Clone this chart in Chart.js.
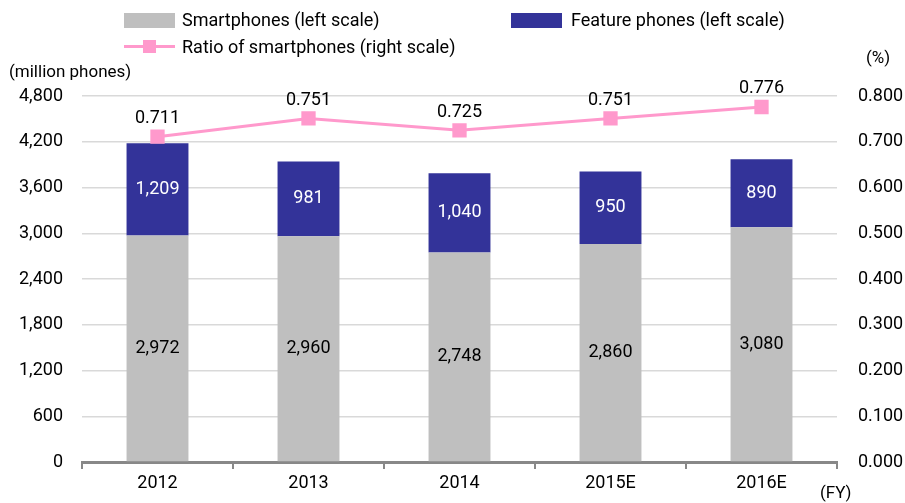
<!DOCTYPE html>
<html>
<head>
<meta charset="utf-8">
<script src="https://cdn.jsdelivr.net/npm/chart.js@4"></script>
<style>
  body { margin: 0; background: #fff; }
  #wrap { position: relative; width: 905px; height: 503px; font-family: Roboto, "Noto Sans CJK JP", sans-serif; }
  #wrap canvas { position: absolute; left: 0; top: 0; }
  .lg { position: absolute; font-size: 18px; color: #000; line-height: 20px; white-space: nowrap; }
  .box { position: absolute; width: 51px; height: 15px; }
  .note { position: absolute; font-size: 17px; color: #000; white-space: nowrap; }
</style>
</head>
<body>
<div id="wrap">
  <canvas id="grafico" width="905" height="503"></canvas>
  <div class="box" style="left:124px;top:13px;background:#bfbfbf"></div>
  <div class="lg" style="left:182px;top:10px">Smartphones (left scale)</div>
  <div class="box" style="left:511px;top:13px;background:#333399"></div>
  <div class="lg" style="left:571px;top:10px">Feature phones (left scale)</div>
  <div style="position:absolute;left:124px;top:45px;width:51px;height:3px;background:#ff99cc"></div>
  <div style="position:absolute;left:143px;top:40px;width:13px;height:13px;background:#ff99cc"></div>
  <div class="lg" style="left:182px;top:37px">Ratio of smartphones (right scale)</div>
  <div class="note" style="left:9px;top:61px">(million phones)</div>
  <div class="note" style="left:866px;top:47px">(%)</div>
  <div class="note" style="left:820px;top:482px">(FY)</div>
</div>
<script>
const years = ["2012", "2013", "2014", "2015E", "2016E"];
const smartphones = [2972, 2960, 2748, 2860, 3080];
const featurePhones = [1209, 981, 1040, 950, 890];
const ratio = [0.711, 0.751, 0.725, 0.751, 0.776];
const leftTicks = [0, 600, 1200, 1800, 2400, 3000, 3600, 4200, 4800];
const rightTicks = [0, 0.1, 0.2, 0.3, 0.4, 0.5, 0.6, 0.7, 0.8];

const fontNum = { family: 'Roboto, sans-serif', size: 18 };

// value labels inside bars and above the line points
const etiquetas = {
  id: 'etiquetas',
  afterDatasetsDraw(chart) {
    const ctx = chart.ctx;
    ctx.save();
    ctx.font = '18px Roboto, sans-serif';
    ctx.textAlign = 'center';
    ctx.textBaseline = 'middle';
    chart.data.datasets.forEach((ds, i) => {
      const meta = chart.getDatasetMeta(i);
      meta.data.forEach((el, j) => {
        const v = ds.data[j];
        if (ds.type === 'line') {
          ctx.fillStyle = '#000';
          ctx.fillText(v.toFixed(3), el.x, el.y - 18);
        } else {
          const mid = (el.y + el.base) / 2;
          ctx.fillStyle = i === 2 ? '#fff' : '#000';
          ctx.fillText(v.toLocaleString('en-US'), el.x, mid);
        }
      });
    });
    ctx.restore();
  }
};

new Chart(document.querySelector('#grafico'), {
  data: {
    labels: years,
    datasets: [
      {
        type: 'line',
        label: 'Ratio of smartphones (right scale)',
        data: ratio,
        yAxisID: 'y2',
        borderColor: '#ff99cc',
        backgroundColor: '#ff99cc',
        borderWidth: 3,
        pointStyle: 'rect',
        pointRadius: 8,
        pointHoverRadius: 8,
        tension: 0,
        order: 0
      },
      {
        type: 'bar',
        label: 'Smartphones (left scale)',
        data: smartphones,
        backgroundColor: '#bfbfbf',
        categoryPercentage: 1,
        barPercentage: 0.41,
        order: 1
      },
      {
        type: 'bar',
        label: 'Feature phones (left scale)',
        data: featurePhones,
        backgroundColor: '#333399',
        categoryPercentage: 1,
        barPercentage: 0.41,
        order: 1
      }
    ]
  },
  options: {
    responsive: false,
    animation: false,
    devicePixelRatio: 1,
    layout: { padding: { top: 96, left: 0, right: 0, bottom: 0 } },
    plugins: { legend: { display: false }, tooltip: { enabled: false } },
    scales: {
      x: {
        stacked: true,
        grid: { drawOnChartArea: false, drawTicks: true, tickLength: 7, color: '#888', lineWidth: 2 },
        border: { color: '#888', width: 3 },
        ticks: { color: '#000', font: fontNum, padding: 4 },
        afterFit(s) { s.height = 41; }
      },
      y: {
        stacked: true,
        min: 0,
        max: 4800,
        afterBuildTicks(s) { s.ticks = leftTicks.map(v => ({ value: v })); },
        grid: { color: '#d9d9d9', lineWidth: 1.5, drawTicks: false },
        border: { display: false },
        ticks: { color: '#000', font: fontNum, padding: 19, callback: v => v.toLocaleString('en-US') },
        afterFit(s) { s.width = 82; }
      },
      y2: {
        position: 'right',
        min: 0,
        max: 0.8,
        afterBuildTicks(s) { s.ticks = rightTicks.map(v => ({ value: v })); },
        grid: { drawOnChartArea: false, drawTicks: false },
        border: { display: false },
        ticks: { color: '#000', font: fontNum, padding: 21, callback: v => v.toFixed(3) },
        afterFit(s) { s.width = 68; }
      }
    }
  },
  plugins: [etiquetas]
});
</script>
</body>
</html>
